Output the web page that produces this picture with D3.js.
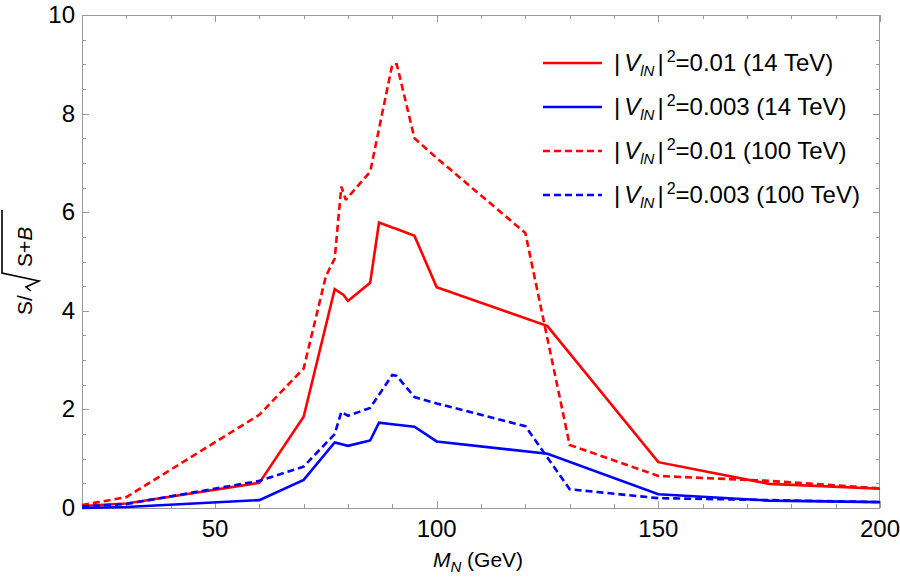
<!DOCTYPE html>
<html>
<head>
<meta charset="utf-8">
<script src="https://cdn.jsdelivr.net/npm/d3@7"></script>
<style>
body { margin: 0; background: #fff; }
text { font-family: 'Liberation Sans', Arial, sans-serif; fill: #000; }
</style>
</head>
<body>
<svg width="900" height="584"></svg>
<script>
// M_N (GeV) and S/sqrt(S+B)
var massRed14 = [20, 30, 60, 70, 77, 79, 80, 85, 87, 90, 91, 95, 100, 125, 150, 175, 200];
var sigRed14 = [0.04, 0.09, 0.51, 1.85, 4.44, 4.32, 4.2, 4.57, 5.79, 5.69, 5.66, 5.52, 4.48, 3.69, 0.93, 0.49, 0.39];

var massBlue14 = [20, 30, 60, 70, 77, 80, 85, 87, 90, 91, 95, 100, 125, 150, 175, 200];
var sigBlue14 = [0.0, 0.02, 0.16, 0.57, 1.33, 1.26, 1.37, 1.73, 1.70, 1.69, 1.65, 1.35, 1.10, 0.28, 0.15, 0.12];

var massRed100 = [20, 30, 60, 70, 75, 77, 78.5, 79.5, 85, 90, 91, 95, 100, 120, 130, 150, 175, 200];
var sigRed100 = [0.06, 0.22, 1.89, 2.83, 4.7, 5.06, 6.52, 6.25, 6.82, 9.0, 9.0, 7.5, 7.1, 5.58, 1.28, 0.65, 0.55, 0.40];

var massBlue100 = [20, 30, 60, 70, 77, 78.5, 80, 85, 90, 91, 95, 100, 120, 130, 150, 175, 200];
var sigBlue100 = [0.03, 0.08, 0.55, 0.84, 1.5, 1.95, 1.87, 2.03, 2.70, 2.68, 2.25, 2.12, 1.66, 0.38, 0.20, 0.16, 0.12];

var legendLabels = ['0.01 (14 TeV)', '0.003 (14 TeV)', '0.01 (100 TeV)', '0.003 (100 TeV)'];
var xTicks = [50, 100, 150, 200];
var yTicks = [0, 2, 4, 6, 8, 10];

var series = [
    {x: massRed14, y: sigRed14, color: '#ff0000', dash: null},
    {x: massBlue14, y: sigBlue14, color: '#0000ff', dash: null},
    {x: massRed100, y: sigRed100, color: '#ff0000', dash: '7,4'},
    {x: massBlue100, y: sigBlue100, color: '#0000ff', dash: '7,4'}
];

var plotL = 82, plotR = 880, plotT = 15, plotB = 508;
var scaleX = d3.scaleLinear().domain([20, 200]).range([plotL, plotR]);
var scaleY = d3.scaleLinear().domain([0, 10]).range([plotB, plotT]);

var svg = d3.select('svg');

svg.append('clipPath').attr('id', 'clip')
    .append('rect')
    .attr('x', plotL).attr('y', plotT - 5)
    .attr('width', plotR - plotL).attr('height', plotB - plotT + 10);

// frame with inward ticks on all sides
var frame = svg.append('g').attr('stroke', '#999').attr('stroke-width', 1);
frame.append('rect')
    .attr('x', plotL + 0.5).attr('y', plotT + 0.5)
    .attr('width', plotR - plotL - 1).attr('height', plotB - plotT)
    .attr('fill', 'none');

var xMinor = d3.range(20, 201, 10);
var yMinor = d3.range(0, 10.01, 0.5);

xMinor.forEach(function(v){
    var len = v % 50 === 0 ? 7 : 4;
    var px = Math.round(scaleX(v)) + 0.5;
    frame.append('line').attr('x1', px).attr('x2', px).attr('y1', plotB).attr('y2', plotB - len);
    frame.append('line').attr('x1', px).attr('x2', px).attr('y1', plotT).attr('y2', plotT + len);
});
yMinor.forEach(function(v){
    var len = Math.abs(v % 2) < 1e-6 ? 7 : 4;
    var py = Math.round(scaleY(v)) + 0.5;
    frame.append('line').attr('x1', plotL).attr('x2', plotL + len).attr('y1', py).attr('y2', py);
    frame.append('line').attr('x1', plotR).attr('x2', plotR - len).attr('y1', py).attr('y2', py);
});

svg.selectAll('.xlab')
    .data(xTicks)
    .enter()
    .append('text')
    .attr('x', function(d){ return scaleX(d); })
    .attr('y', 537)
    .attr('text-anchor', 'middle')
    .attr('font-size', 24)
    .text(function(d){ return d; });

svg.selectAll('.ylab')
    .data(yTicks)
    .enter()
    .append('text')
    .attr('x', 75)
    .attr('y', function(d){ return scaleY(d) + 8; })
    .attr('text-anchor', 'end')
    .attr('font-size', 24)
    .text(function(d){ return d; });

// curves
var line = d3.line()
    .x(function(d){ return scaleX(d[0]); })
    .y(function(d){ return scaleY(d[1]); });

svg.append('g').attr('clip-path', 'url(#clip)')
    .selectAll('path')
    .data(series)
    .enter()
    .append('path')
    .attr('d', function(s){ return line(d3.zip(s.x, s.y)); })
    .attr('fill', 'none')
    .attr('stroke', function(s){ return s.color; })
    .attr('stroke-width', 2.6)
    .attr('stroke-linejoin', 'miter')
    .attr('stroke-miterlimit', 2)
    .attr('stroke-dasharray', function(s){ return s.dash; });

// legend
var legend = svg.append('g');
series.forEach(function(s, i){
    var y = 63 + i * 44;
    legend.append('line')
        .attr('x1', 543).attr('x2', 602)
        .attr('y1', y).attr('y2', y)
        .attr('stroke', s.color)
        .attr('stroke-width', 2.6)
        .attr('stroke-dasharray', s.dash);
    var t = legend.append('text')
        .attr('x', 614).attr('y', y + 8)
        .attr('font-size', 24);
    t.append('tspan').text('|');
    t.append('tspan').attr('font-style', 'italic').attr('dx', 4).text('V');
    t.append('tspan').attr('font-style', 'italic').attr('font-size', 15).attr('dy', 5).text('lN');
    t.append('tspan').attr('dy', -5).attr('dx', 3).text('|');
    t.append('tspan').attr('font-size', 16).attr('dy', -9).attr('dx', 3).text('2');
    t.append('tspan').attr('dy', 9).text('=' + legendLabels[i]);
});

// axis titles
var xt = svg.append('text')
    .attr('x', 478).attr('y', 567)
    .attr('text-anchor', 'middle')
    .attr('font-size', 21);
xt.append('tspan').attr('font-style', 'italic').text('M');
xt.append('tspan').attr('font-style', 'italic').attr('font-size', 15).attr('dy', 5).text('N');
xt.append('tspan').attr('dy', -5).text(' (GeV)');

var yt = svg.append('g').attr('transform', 'translate(32,0) rotate(-90)');
yt.append('text').attr('x', -315).attr('y', 0).attr('font-size', 21).text('S/');
yt.append('path')
    .attr('d', 'M-291,-1 L-287,-6 L-281,7 L-273,-30 L-210,-30')
    .attr('fill', 'none')
    .attr('stroke', '#000')
    .attr('stroke-width', 1.6);
var yt2 = yt.append('text').attr('x', -267).attr('y', 0).attr('font-size', 21);
yt2.append('tspan').text('S+');
yt2.append('tspan').attr('font-style', 'italic').text('B');
</script>
</body>
</html>
